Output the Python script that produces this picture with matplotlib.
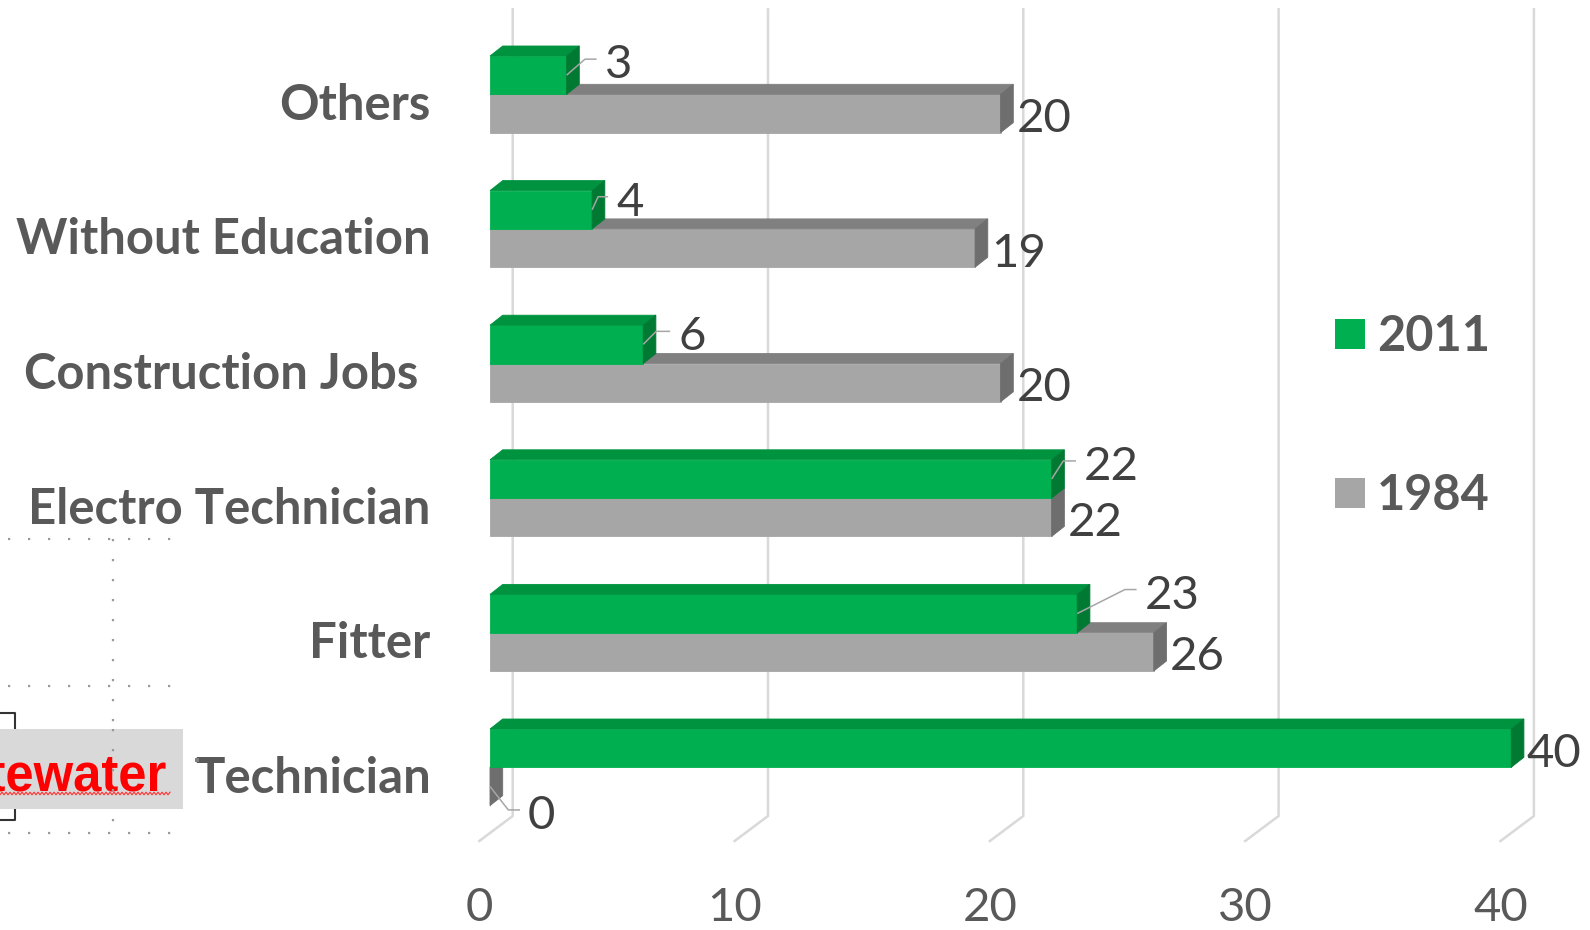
import matplotlib
matplotlib.use("Agg")
import matplotlib.pyplot as plt
from matplotlib.patches import Polygon, Rectangle
import numpy as np

# ── data ──────────────────────────────────────────────────────────────────────
CATEGORIES = ["Technician", "Fitter", "Electro Technician",
              "Construction Jobs ", "Without Education", "Others"]
SERIES = ["2011", "1984"]
VALUES_2011 = [40, 23, 22, 6, 4, 3]
VALUES_1984 = [0, 26, 22, 20, 19, 20]
X_TICKS = [0, 10, 20, 30, 40]

# ── geometry (pixels on the 1590x930 canvas) ─────────────────────────────────
W, H, DPI = 1590, 930, 100
PX_UNIT = 25.53      # px per value unit
X0 = 490.0           # px of value 0 on the bar front
Y0 = 767.3           # px of the first category (line between its two bars)
PX_CAT = 134.6       # px between categories
BAR_H = 38.3
DEPTH = (12.7, 10.0)  # 3d depth of the bars (right, up)
GRID_BACK = 22.7     # back wall offset of gridlines from bar front
FLOOR_FRONT = -10.7

GREEN = ("#00B050", "#00933F", "#007A33")   # front, top, side
GREY = ("#A6A6A6", "#808080", "#6E6E6E")
GRID_COLOR = "#D9D9D9"
LABEL_COLOR = "#595959"
VALUE_COLOR = "#404040"
LEADER_COLOR = "#A6A6A6"

# leader lines for moved labels: (diag dx, diag dy, horizontal end dx) in px
GREEN_LEADERS = [None, (47.7, -24, 59.4), (11.6, -18, 24.3),
                 (13, -13, 27), (6, -13, 16), (18.4, -16, 30)]
GREY_LEADERS = [(18.3, 23.5, 30), None, None, None, None, None]

VAL_FONT = 34
CAT_FONT = 35.3
FONT = "Lato"


def ux(px):
    return px / PX_UNIT


def uy(px):
    # pixel offsets grow downwards, data grows upwards
    return -px / PX_CAT


def draw_bar(ax, length, y0, colors, z):
    h = BAR_H / PX_CAT
    dx, dy = ux(DEPTH[0]), -uy(DEPTH[1])
    front, top, side = colors
    kw = dict(lw=0.6, zorder=z)
    ax.add_patch(Rectangle((0, y0), length, h, fc=front, ec=front, **kw))
    ax.add_patch(Polygon([(0, y0 + h), (length, y0 + h),
                          (length + dx, y0 + h + dy), (dx, y0 + h + dy)],
                         fc=top, ec=top, **kw))
    ax.add_patch(Polygon([(length, y0), (length + dx, y0 + dy),
                          (length + dx, y0 + h + dy), (length, y0 + h)],
                         fc=side, ec=side, **kw))


def value_label(ax, value, cy, leader, z):
    if leader is None:
        ax.text(value + ux(DEPTH[0] + 3), cy + uy(18.5), f"{value}",
                ha="left", va="baseline", fontsize=VAL_FONT,
                color=VALUE_COLOR, family=FONT, zorder=z)
        return
    ddx, ddy, hx = leader
    xs = [value, value + ux(ddx), value + ux(hx)]
    ys = [cy, cy + uy(ddy), cy + uy(ddy)]
    ax.plot(xs, ys, color=LEADER_COLOR, lw=1.1, zorder=z,
            solid_capstyle="butt")
    ax.text(value + ux(hx + 8), cy + uy(ddy + 19), f"{value}",
            ha="left", va="baseline", fontsize=VAL_FONT,
            color=VALUE_COLOR, family=FONT, zorder=z)


fig = plt.figure(figsize=(W / DPI, H / DPI), dpi=DPI)
fig.patch.set_facecolor("white")
ax = fig.add_axes([0, 0, 1, 1])
ax.set_xlim(-X0 / PX_UNIT, (W - X0) / PX_UNIT)
ax.set_ylim((Y0 - H) / PX_CAT, Y0 / PX_CAT)
ax.axis("off")

# ── gridlines on back wall + floor ───────────────────────────────────────────
y_top = Y0 / PX_CAT + uy(9.3)
y_bot = uy(816 - Y0)
y_floor = uy(841 - Y0)
for t in X_TICKS:
    gx = t + ux(GRID_BACK)
    ax.plot([gx, gx, t + ux(FLOOR_FRONT)], [y_top, y_bot, y_floor],
            color=GRID_COLOR, lw=1.8, zorder=1, solid_joinstyle="miter")
    ax.text(t + ux(FLOOR_FRONT), uy(921 - Y0), f"{t}", ha="center",
            va="baseline", fontsize=VAL_FONT, color=LABEL_COLOR, family=FONT)

# ── bars ─────────────────────────────────────────────────────────────────────
h = BAR_H / PX_CAT
for i, cat in enumerate(CATEGORIES):
    draw_bar(ax, VALUES_1984[i], i - h, GREY, 2 + i)
    draw_bar(ax, VALUES_2011[i], i, GREEN, 2.5 + i)
    value_label(ax, VALUES_1984[i], i - h / 2, GREY_LEADERS[i], 10)
    value_label(ax, VALUES_2011[i], i + h / 2, GREEN_LEADERS[i], 10)
    ax.text(ux(430.5 - X0), i + uy(25.5), cat, ha="right", va="baseline",
            fontsize=CAT_FONT, fontweight="bold", color=LABEL_COLOR,
            family=FONT)

# ── overlay in pixel space: legend and the stray text box ────────────────────
ov = fig.add_axes([0, 0, 1, 1], zorder=5)
ov.set_xlim(0, W)
ov.set_ylim(H, 0)
ov.axis("off")

for name, col, yc in zip(SERIES, [GREEN[0], GREY[0]], [334, 493]):
    ov.add_patch(Rectangle((1335, yc - 15), 30, 30, fc=col, ec="none"))
    ov.text(1377, yc + 17, name, ha="left", va="baseline", fontsize=35,
            fontweight="bold", color=LABEL_COLOR, family=FONT)

dots = dict(color="#9A9A9A", lw=1.6, linestyle=(0, (1, 8)))
for yy in [539.3, 686, 832.7]:
    ov.plot([8, 172], [yy, yy], **dots)
ov.plot([113.3, 113.3], [539.3, 832.7], **dots)

ov.add_patch(Rectangle((0, 729.3), 182.7, 80, fc="#D9D9D9", ec="none",
                       zorder=3))
ov.text(167, 790, "Wastewater", ha="right", va="baseline", fontsize=36.5,
        fontweight="bold", color="#FF0000",
        family=["Liberation Sans Narrow", "Liberation Sans"], zorder=4)
wx = np.arange(0, 171, 2.0)
ov.plot(wx, 793.5 + 1.3 * (-1) ** np.arange(len(wx)), color="#FF3030",
        lw=0.8, zorder=4)
ov.plot([113.3, 113.3], [729.3, 809.3], zorder=4, **dots)
ov.plot([0, 15, 15], [713.3, 713.3, 729.3], color="#333333", lw=1.5)
ov.plot([0, 15, 15], [820, 820, 809.3], color="#333333", lw=1.5)
ov.add_patch(Rectangle((195, 758), 4, 4, fc="#7F7F7F", ec="none"))

fig.savefig("out.png", dpi=DPI, facecolor="white")
